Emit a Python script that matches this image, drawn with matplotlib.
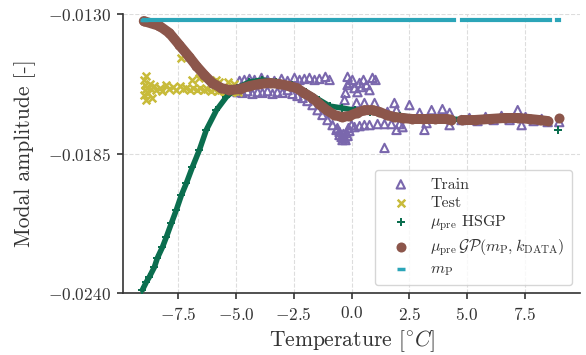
import numpy as np
import matplotlib
matplotlib.use("Agg")
import matplotlib.pyplot as plt
from matplotlib.ticker import FuncFormatter, FixedLocator

plt.rcParams['font.family'] = 'serif'
plt.rcParams['font.serif'] = ['cmr10', 'DejaVu Serif']
plt.rcParams['mathtext.fontset'] = 'cm'
plt.rcParams['axes.formatter.use_mathtext'] = True

# ---------------- data ----------------
train_x = [-4.85, -4.64, -4.42, -4.20, -3.90, -3.64, -3.34, -3.03, -2.77, -2.47, -2.25, -2.04,
           -1.82, -1.60, -1.39, -1.13, -0.95,
           -4.94, -4.72, -4.51, -4.29, -4.07, -3.86, -3.64, -3.42, -3.21, -2.99, -2.77, -2.56,
           -2.34, -2.12, -1.91, -1.69, -1.47, -1.26, -1.04, -0.82, -0.65, -0.52, -0.39, -0.30,
           -0.22, -0.13, 0.00,
           -0.30, -0.26, -0.17, -0.17, -0.09, 0.04, 0.13, 0.26, 0.35, 0.43, 0.52, 0.65, 0.78,
           0.91, 1.04, 0.22, 0.56, 1.00,
           0.13, 0.35, 0.56, 0.78, 1.13, 1.43, 1.73, 2.08,
           1.43, 1.86, 2.51, 1.95, 1.56, 2.95, 3.47, 3.94, 4.25, 1.95, 2.21, 3.16, 3.25, 4.25,
           4.77, 5.11, 5.46, 5.81, 6.16, 6.50, 6.85, 7.20, 7.37, 7.54, 7.89, 8.24, 8.50, 9.00,
           -0.61, -0.52, -0.43, -0.35, -0.26, -0.17, -0.09]
train_y = [-0.01564, -0.01560, -0.01556, -0.01560, -0.01552, -0.01560, -0.01564, -0.01556,
           -0.01564, -0.01552, -0.01560, -0.01556, -0.01552, -0.01560, -0.01556, -0.01548,
           -0.01560,
           -0.01608, -0.01611, -0.01604, -0.01615, -0.01608, -0.01611, -0.01604, -0.01615,
           -0.01608, -0.01611, -0.01600, -0.01615, -0.01623, -0.01631, -0.01643, -0.01659,
           -0.01679, -0.01698, -0.01718, -0.01738, -0.01757, -0.01777, -0.01797, -0.01789,
           -0.01769, -0.01750, -0.01738,
           -0.01639, -0.01611, -0.01580, -0.01548, -0.01572, -0.01560, -0.01592, -0.01608,
           -0.01572, -0.01588, -0.01560, -0.01580, -0.01600, -0.01552, -0.01560, -0.01651,
           -0.01651, -0.01651,
           -0.01746, -0.01742, -0.01738, -0.01738, -0.01734, -0.01734, -0.01734, -0.01734,
           -0.01828, -0.01651, -0.01659, -0.01679, -0.01686, -0.01690, -0.01679, -0.01675,
           -0.01690, -0.01757, -0.01746, -0.01757, -0.01730, -0.01738,
           -0.01718, -0.01710, -0.01722, -0.01706, -0.01718, -0.01702, -0.01718, -0.01679,
           -0.01738, -0.01706, -0.01722, -0.01714, -0.01726, -0.01726,
           -0.01750, -0.01765, -0.01785, -0.01773, -0.01797, -0.01781, -0.01761]

test_x = [-9.00, -9.00, -8.95, -8.95, -8.90, -8.90, -8.85, -8.80, -8.75, -8.70, -8.65, -8.55,
          -8.45, -8.30, -8.20, -8.05, -7.90, -7.75, -7.60, -7.45, -7.30, -7.15, -7.00, -6.85,
          -6.70, -6.55, -6.40, -6.25, -6.10, -5.95, -5.80, -5.65, -5.50, -5.35, -5.20, -5.05,
          -4.90,
          -7.37, -6.89, -6.59, -5.85, -5.72, -5.37, -5.07]
test_y = [-0.01560, -0.01620, -0.01580, -0.01600, -0.01545, -0.01640, -0.01590, -0.01610,
          -0.01575, -0.01595, -0.01630, -0.01585, -0.01600, -0.01590, -0.01605, -0.01580,
          -0.01595, -0.01588, -0.01600, -0.01585, -0.01597, -0.01590, -0.01600, -0.01592,
          -0.01598, -0.01590, -0.01600, -0.01595, -0.01602, -0.01596, -0.01604, -0.01598,
          -0.01606, -0.01600, -0.01608, -0.01603, -0.01606,
          -0.01473, -0.01560, -0.01552, -0.01560, -0.01568, -0.01568, -0.01576]

hsgp_x = [-9.06, -8.89, -8.76, -8.54, -8.41, -8.19, -8.02, -7.80, -7.59, -7.37, -7.15, -6.89,
          -6.59, -6.29, -5.85, -5.42, -4.98, -4.42, -3.86, -3.25, -2.56, -1.95, -1.39, -0.95,
          -0.39, 0.13, 0.78, 1.43, 2.08, 2.95, 4.25, 5.11, 6.42, 7.50, 8.37]
hsgp_y = [-0.02388, -0.02357, -0.02337, -0.02298, -0.02262, -0.02219, -0.02179, -0.02124,
          -0.02073, -0.02014, -0.01966, -0.01903, -0.01836, -0.01757, -0.01679, -0.01627,
          -0.01592, -0.01568, -0.01560, -0.01568, -0.01580, -0.01608, -0.01639, -0.01663,
          -0.01671, -0.01679, -0.01686, -0.01694, -0.01702, -0.01710, -0.01714, -0.01718,
          -0.01714, -0.01714, -0.01722]
hsgp_last_x = [8.93]
hsgp_last_y = [-0.01757]

gp_x = [-9.00, -8.32, -7.89, -7.46, -7.02, -6.72, -6.37, -6.03, -5.64, -5.29, -4.85, -4.42,
        -3.99, -3.55, -3.12, -2.69, -2.38, -2.04, -1.69, -1.39, -1.08, -0.74, -0.43, -0.09,
        0.22, 0.56, 0.91, 1.21, 1.52, 1.86, 2.21, 2.64, 3.08, 3.60, 4.12, 4.30, np.nan,
        4.77, 5.33, 5.98, 6.63, 7.20, 7.72, 8.15, 8.50, np.nan, 8.97]
gp_y = [-0.01328, -0.01347, -0.01375, -0.01422, -0.01470, -0.01505, -0.01541, -0.01572,
        -0.01592, -0.01600, -0.01596, -0.01584, -0.01576, -0.01572, -0.01576, -0.01584,
        -0.01592, -0.01612, -0.01631, -0.01655, -0.01679, -0.01698, -0.01706, -0.01702,
        -0.01690, -0.01679, -0.01679, -0.01686, -0.01698, -0.01706, -0.01710, -0.01714,
        -0.01714, -0.01714, -0.01714, -0.01716, np.nan,
        -0.01718, -0.01718, -0.01714, -0.01710, -0.01710, -0.01714, -0.01718, -0.01722,
        np.nan, -0.01710]

mp_x = [-9.00, -6.00, -3.00, 0.00, 3.00, 4.42, np.nan, 4.77, 6.00, 7.50, 8.58, np.nan, 8.90, 9.00]
mp_y = [-0.01324, -0.01324, -0.01324, -0.01324, -0.01324, -0.01324, np.nan, -0.01324,
        -0.01324, -0.01324, -0.01324, np.nan, -0.01324, -0.01324]

x_ticks = [-7.5, -5.0, -2.5, 0.0, 2.5, 5.0, 7.5]
y_ticks = [-0.0240, -0.0185, -0.0130]

c_train = '#7a67ad'
c_test = '#c8bb3a'
c_hsgp = '#0b6e4f'
c_gp = '#8c564b'
c_mp = '#2ba5b8'

# ---------------- figure ----------------
fig = plt.figure(figsize=(5.86, 3.55), dpi=100)
ax = fig.add_axes([123/586, 1 - 293/355, 457/586, 279/355])

ax.scatter(train_x, train_y, s=36, marker='^', facecolors='none', edgecolors=c_train,
           linewidths=1.5, label='Train', zorder=2)
ax.scatter(test_x, test_y, s=30, marker='x', color=c_test, linewidths=1.8,
           label='Test', zorder=3)
ax.plot(hsgp_x, hsgp_y, color=c_hsgp, lw=4.0, solid_capstyle='round', zorder=4)
ax.scatter(hsgp_x + hsgp_last_x, hsgp_y + hsgp_last_y, s=26, marker='P', color=c_hsgp,
           linewidths=0, label=r'$\mu_{\rm pre}$ HSGP', zorder=4)
ax.plot(gp_x, gp_y, color=c_gp, lw=7.2, solid_capstyle='round', zorder=5)
ax.scatter(gp_x, gp_y, s=52, marker='o', color=c_gp, linewidths=0,
           label=r'$\mu_{\rm pre}\,\mathcal{GP}(m_{\rm P}, k_{\rm DATA})$', zorder=5)
ax.plot(mp_x, mp_y, color=c_mp, lw=3.0, solid_capstyle='projecting', zorder=6)
ax.scatter([mp_x[0]], [mp_y[0]], s=30, marker='_', color=c_mp, linewidths=2.5,
           label=r'$m_{\rm P}$', zorder=6)

ax.set_xlim(-9.9, 9.9)
ax.set_ylim(-0.0240, -0.0130)
ax.xaxis.set_major_locator(FixedLocator(x_ticks))
ax.yaxis.set_major_locator(FixedLocator(y_ticks))
ax.xaxis.set_major_formatter(FuncFormatter(lambda v, p: f"${v:.1f}$"))
ax.yaxis.set_major_formatter(FuncFormatter(lambda v, p: f"${v:.4f}$"))

for s in ['top', 'right']:
    ax.spines[s].set_visible(False)
for s in ['left', 'bottom']:
    ax.spines[s].set_color('#333333')
    ax.spines[s].set_linewidth(1.2)
ax.tick_params(axis='both', direction='out', length=4, width=1.2, color='#333333',
               labelcolor='#333333', labelsize=12.5, pad=5)
ax.grid(True, linestyle='--', color='#dddddd', linewidth=0.8, zorder=0)
ax.set_axisbelow(True)

ax.set_xlabel(r'Temperature [$^{\circ}C$]', fontsize=15.5, color='#333333')
ax.set_ylabel('Modal amplitude [-]', fontsize=15.5, color='#333333', labelpad=8)

leg = ax.legend(loc='lower right', fontsize=11.5, scatterpoints=1, frameon=True,
                fancybox=True, framealpha=0.8, edgecolor='#cccccc',
                labelspacing=0.25, handlelength=2.3, handletextpad=0.7, borderpad=0.45)
for t in leg.get_texts():
    t.set_color('#333333')

fig.savefig('out.png', dpi=100)
